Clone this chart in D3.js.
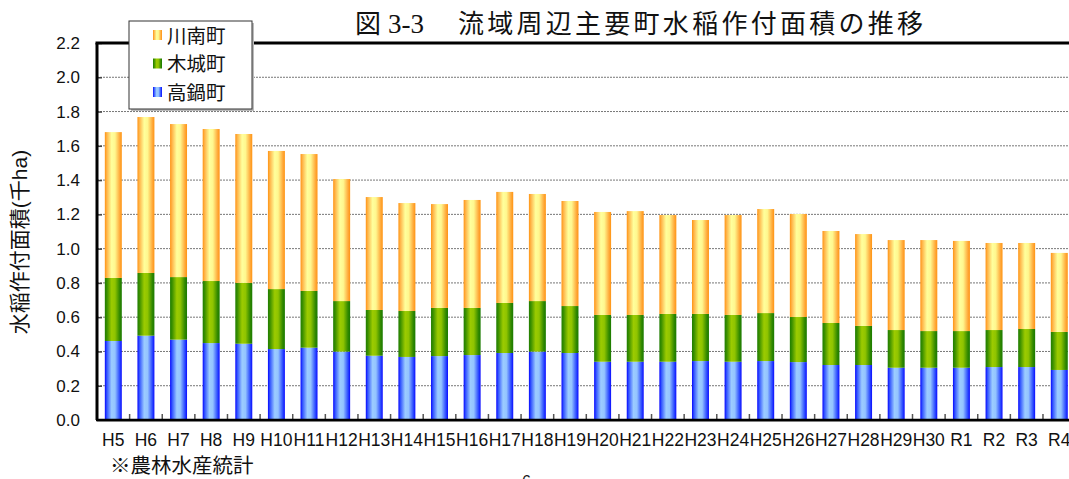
<!DOCTYPE html>
<html>
<head>
<meta charset="utf-8">
<script src="https://cdn.jsdelivr.net/npm/d3@7"></script>
<style>
  body { margin: 0; background: #fff; }
  svg { display: block; font-family: "Liberation Sans", Arial, "Noto Sans CJK JP", sans-serif; }
</style>
</head>
<body>
<div id="chart"></div>
<script>
// values (thousand ha)
var years = ["H5","H6","H7","H8","H9","H10","H11","H12","H13","H14","H15","H16","H17","H18","H19",
             "H20","H21","H22","H23","H24","H25","H26","H27","H28","H29","H30","R1","R2","R3","R4"];

var takanabe   = [0.461,0.492,0.469,0.449,0.445,0.414,0.422,0.399,0.375,0.368,0.373,0.379,0.391,0.399,0.391,
                  0.340,0.340,0.340,0.344,0.340,0.344,0.338,0.321,0.321,0.305,0.305,0.305,0.309,0.309,0.292];
var kijo       = [0.368,0.366,0.365,0.362,0.355,0.350,0.331,0.295,0.267,0.268,0.281,0.275,0.292,0.295,0.274,
                  0.273,0.273,0.279,0.275,0.273,0.280,0.263,0.245,0.228,0.220,0.214,0.214,0.216,0.222,0.222];
var kawaminami = [0.851,0.910,0.893,0.887,0.869,0.806,0.799,0.712,0.659,0.630,0.606,0.630,0.648,0.625,0.613,
                  0.601,0.606,0.577,0.548,0.583,0.607,0.601,0.537,0.536,0.525,0.531,0.526,0.508,0.502,0.461];

var seriesNames = ["高鍋町", "木城町", "川南町"];
var yTicks = [0,0.2,0.4,0.6,0.8,1.0,1.2,1.4,1.6,1.8,2.0,2.2];

var W = 1069, H = 479;
var svg = d3.select("#chart").append("svg")
            .attr("width", W)
            .attr("height", H);

var defs = svg.append("defs");

function grad(id, stops){
  var g = defs.append("linearGradient")
              .attr("id", id)
              .attr("x1", "0").attr("x2", "1")
              .attr("y1", "0").attr("y2", "0");
  stops.forEach(function(s){
    g.append("stop").attr("offset", s[0]).attr("stop-color", s[1]);
  });
}
grad("gBlue",   [["0%","#0505ff"],["12%","#3355ff"],["40%","#9cccff"],["60%","#94c4ff"],["88%","#2a48ff"],["100%","#0a0aff"]]);
grad("gGreen",  [["0%","#1f7d00"],["12%","#3a8f00"],["40%","#9ccb00"],["60%","#8fc400"],["88%","#2f8700"],["100%","#1a7a00"]]);
grad("gOrange", [["0%","#ff9412"],["12%","#ffb54a"],["40%","#ffff9c"],["60%","#fff78f"],["88%","#ffa93a"],["100%","#ff9412"]]);
var fills = ["url(#gBlue)", "url(#gGreen)", "url(#gOrange)"];

var plotLeft = 97, plotTop = 43, plotBottom = 420;

var x = d3.scaleBand()
          .domain(years)
          .range([plotLeft, plotLeft + 30 * 32.62])
          .paddingInner(0.48)
          .paddingOuter(0.24);

var y = d3.scaleLinear().domain([0, 2.2]).range([plotBottom, plotTop]);

// grid lines
svg.append("g")
   .selectAll("line")
   .data(yTicks.filter(function(d){ return d > 0 && d < 2.2; }))
   .enter().append("line")
   .attr("x1", plotLeft).attr("x2", W)
   .attr("y1", function(d){ return y(d); })
   .attr("y2", function(d){ return y(d); })
   .attr("stroke", "#777")
   .attr("stroke-width", 1)
   .attr("stroke-dasharray", "2,1");

// stacked bars
var rows = years.map(function(yr, i){
  return {year: yr, a: takanabe[i], b: kijo[i], c: kawaminami[i]};
});
var stack = d3.stack().keys(["a","b","c"]);
var layers = stack(rows);

svg.append("g")
   .selectAll("g")
   .data(layers)
   .enter().append("g")
   .attr("fill", function(d, i){ return fills[i]; })
   .selectAll("rect")
   .data(function(d){ return d; })
   .enter().append("rect")
   .attr("x", function(d){ return x(d.data.year); })
   .attr("width", x.bandwidth())
   .attr("y", function(d){ return y(d[1]); })
   .attr("height", function(d){ return y(d[0]) - y(d[1]); });

// y axis (ticks inside)
var yAxis = d3.axisRight(y)
              .tickValues(yTicks)
              .tickSize(5)
              .tickFormat("");
var ya = svg.append("g")
            .attr("transform", "translate(" + plotLeft + ",0)")
            .call(yAxis);
ya.select(".domain").remove();
ya.selectAll("line").attr("stroke", "#444").attr("stroke-width", 1.5);

svg.append("g")
   .selectAll("text")
   .data(yTicks)
   .enter().append("text")
   .attr("x", 80)
   .attr("y", function(d){ return y(d) + 6; })
   .attr("text-anchor", "end")
   .attr("font-size", 17)
   .attr("fill", "#111")
   .text(function(d){ return d.toFixed(1); });

// x ticks at band edges
svg.append("g")
   .selectAll("line")
   .data(years.slice(1))
   .enter().append("line")
   .attr("x1", function(d){ return x(d) - x.step() * x.paddingInner() / 2; })
   .attr("x2", function(d){ return x(d) - x.step() * x.paddingInner() / 2; })
   .attr("y1", plotBottom - 6).attr("y2", plotBottom)
   .attr("stroke", "#555")
   .attr("stroke-width", 1.5);

// x labels
svg.append("g")
   .selectAll("text")
   .data(years)
   .enter().append("text")
   .attr("x", function(d){ return x(d) + x.bandwidth() / 2; })
   .attr("y", 446)
   .attr("text-anchor", "middle")
   .attr("font-size", 17.5)
   .attr("fill", "#111")
   .text(function(d){ return d; });

// frame
svg.append("line").attr("x1", plotLeft).attr("x2", W).attr("y1", plotBottom + 1.5).attr("y2", plotBottom + 1.5)
   .attr("stroke", "#aaa").attr("stroke-width", 1);
svg.append("line").attr("x1", plotLeft - 1).attr("x2", W).attr("y1", plotBottom).attr("y2", plotBottom)
   .attr("stroke", "#000").attr("stroke-width", 2.5);
svg.append("line").attr("x1", plotLeft).attr("x2", plotLeft).attr("y1", plotTop).attr("y2", plotBottom)
   .attr("stroke", "#000").attr("stroke-width", 3);
svg.append("line").attr("x1", plotLeft - 1.5).attr("x2", W).attr("y1", plotTop).attr("y2", plotTop)
   .attr("stroke", "#000").attr("stroke-width", 3);

// y title
svg.append("text")
   .attr("transform", "translate(27,242) rotate(-90)")
   .attr("text-anchor", "middle")
   .attr("font-size", 21)
   .attr("fill", "#111")
   .text("水稲作付面積(千ha)");

// legend
var lg = svg.append("g").attr("transform", "translate(129,21)");
lg.append("rect").attr("x", 2).attr("y", 2).attr("width", 123).attr("height", 88).attr("fill", "#bbb");
lg.append("rect").attr("width", 123).attr("height", 88)
  .attr("fill", "#fff").attr("stroke", "#333").attr("stroke-width", 1);
var legendItems = [2, 1, 0];
legendItems.forEach(function(k, i){
  lg.append("rect")
    .attr("x", 24).attr("y", 9 + i * 28.5)
    .attr("width", 9).attr("height", 10)
    .attr("fill", fills[k]);
  lg.append("text")
    .attr("x", 38).attr("y", 21.5 + i * 28.5)
    .attr("font-size", 19.5)
    .attr("fill", "#111")
    .text(seriesNames[k]);
});

// title
svg.append("text").attr("x", 355).attr("y", 33)
   .attr("font-size", 26).attr("fill", "#111").text("図");
svg.append("text").attr("x", 388).attr("y", 33)
   .attr("font-size", 27).attr("font-family", "Liberation Serif, Times New Roman, serif")
   .attr("fill", "#111").text("3-3");
svg.append("text").attr("x", 458).attr("y", 33)
   .attr("font-size", 26).attr("fill", "#111")
   .attr("textLength", 465).attr("lengthAdjust", "spacing")
   .text("流域周辺主要町水稲作付面積の推移");

// source note
svg.append("text").attr("x", 110).attr("y", 473)
   .attr("font-size", 20.5).attr("fill", "#111").text("※農林水産統計");

// page number, cut off at the bottom
svg.append("text").attr("x", 522).attr("y", 487)
   .attr("font-size", 16).attr("fill", "#111").text("6");
</script>
</body>
</html>
